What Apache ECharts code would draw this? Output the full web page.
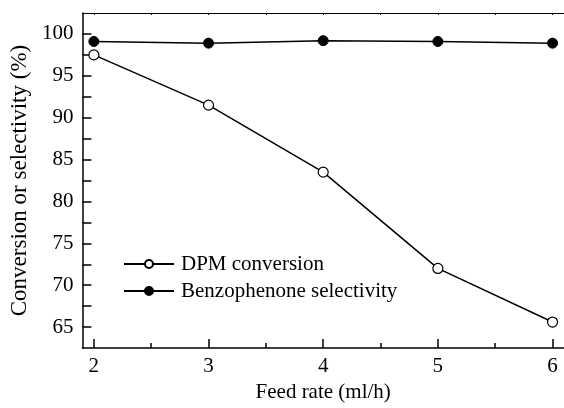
<!DOCTYPE html>
<html>
<head>
<meta charset="utf-8">
<script src="https://cdn.jsdelivr.net/npm/echarts@6/dist/echarts.min.js"></script>
<style>
  html, body { margin: 0; padding: 0; background: #fff; }
  #chart { width: 564px; height: 408px; }
</style>
</head>
<body>
<div id="chart"></div>
<script>
// Feed rate (ml/h)
const feedRate = [2, 3, 4, 5, 6];
// DPM conversion (%)
const dpmConversion = [97.5, 91.5, 83.5, 72.0, 65.6];
// Benzophenone selectivity (%)
const benzoSelectivity = [99.1, 98.9, 99.2, 99.1, 98.9];

const xTicks = [2, 3, 4, 5, 6];
const xMinorTicks = [2.5, 3.5, 4.5, 5.5];
const xTopTicks = [2, 2.5, 3, 3.5, 4, 4.5, 5, 5.5, 6];
const yTicks = [65, 70, 75, 80, 85, 90, 95, 100];
const yAllTicks = [65, 67.5, 70, 72.5, 75, 77.5, 80, 82.5, 85, 87.5, 90, 92.5, 95, 97.5, 100];

const FONT = "'Liberation Serif', 'Times New Roman', serif";
const X_MIN = 1.9, X_MAX = 6.1, Y_MIN = 62.5, Y_MAX = 102.5;

const chart = echarts.init(document.getElementById('chart'), null, { renderer: 'canvas' });

const pairs = (ys) => feedRate.map((x, i) => [x, ys[i]]);
const labelStyle = { fontFamily: FONT, fontSize: 21, color: '#000' };

chart.setOption({
  animation: false,
  backgroundColor: '#fff',
  textStyle: { fontFamily: FONT, color: '#000', fontSize: 21 },
  grid: { left: 81, top: 13, bottom: 54, right: -9, containLabel: false },
  legend: {
    orient: 'vertical',
    left: 123,
    top: 253,
    padding: 0,
    itemWidth: 50,
    itemHeight: 10,
    itemGap: 5,
    textStyle: Object.assign({ lineHeight: 22, padding: [0, 0, 0, 2] }, labelStyle),
    data: ['DPM conversion', 'Benzophenone selectivity']
  },
  xAxis: [
    {
      type: 'value', min: X_MIN, max: X_MAX, position: 'bottom',
      name: 'Feed rate (ml/h)', nameLocation: 'middle', nameGap: 34,
      nameTextStyle: labelStyle,
      axisLine: { show: true, lineStyle: { color: '#000', width: 1.5 } },
      axisTick: { show: true, inside: true, length: 9, customValues: xTicks, lineStyle: { color: '#000', width: 1.5 } },
      axisLabel: Object.assign({ customValues: xTicks, margin: 8 }, labelStyle),
      splitLine: { show: false }
    },
    {
      type: 'value', min: X_MIN, max: X_MAX, position: 'bottom',
      axisLine: { show: false },
      axisTick: { show: true, inside: true, length: 5, customValues: xMinorTicks, lineStyle: { color: '#000', width: 1.5 } },
      axisLabel: { show: false },
      splitLine: { show: false }
    },
    {
      type: 'value', min: X_MIN, max: X_MAX, position: 'top',
      axisLine: { show: true, lineStyle: { color: '#000', width: 1.2 } },
      axisTick: { show: true, inside: true, length: 2, customValues: xTopTicks, lineStyle: { color: '#000', width: 1 } },
      axisLabel: { show: false },
      splitLine: { show: false }
    }
  ],
  yAxis: [
    {
      type: 'value', min: Y_MIN, max: Y_MAX,
      name: 'Conversion or selectivity (%)', nameLocation: 'middle', nameGap: 47,
      nameTextStyle: Object.assign({}, labelStyle, { fontSize: 23 }),
      axisLine: { show: true, lineStyle: { color: '#000', width: 1.5 } },
      axisTick: { show: true, inside: true, length: 9, customValues: yAllTicks, lineStyle: { color: '#000', width: 1.5 } },
      axisLabel: Object.assign({ customValues: yTicks, margin: 9 }, labelStyle),
      splitLine: { show: false }
    }
  ],
  series: [
    {
      name: 'DPM conversion', type: 'line', xAxisIndex: 0, yAxisIndex: 0,
      data: pairs(dpmConversion),
      symbol: 'circle', symbolSize: 10,
      lineStyle: { color: '#000', width: 1.5 },
      itemStyle: { color: '#fff', borderColor: '#000', borderWidth: 1.2 },
      z: 3
    },
    {
      name: 'Benzophenone selectivity', type: 'line', xAxisIndex: 0, yAxisIndex: 0,
      data: pairs(benzoSelectivity),
      symbol: 'circle', symbolSize: 10,
      lineStyle: { color: '#000', width: 1.5 },
      itemStyle: { color: '#000', borderColor: '#000', borderWidth: 1 },
      z: 3
    }
  ]
});
</script>
</body>
</html>
